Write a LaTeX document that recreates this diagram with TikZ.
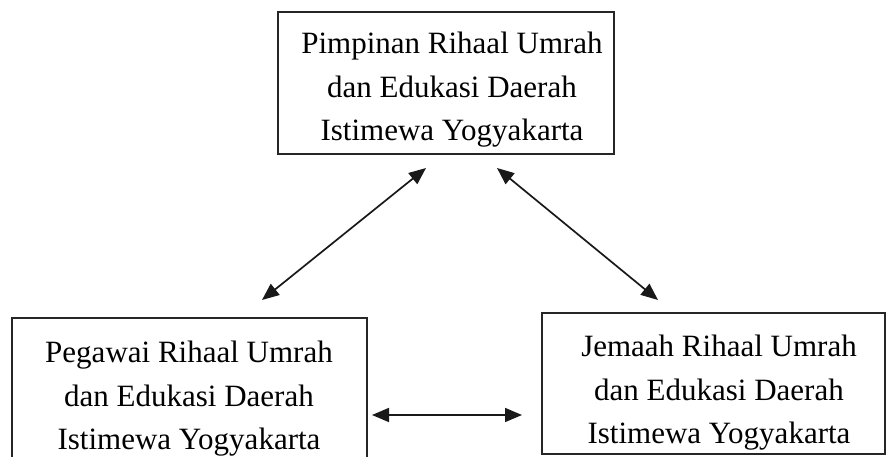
\documentclass[tikz,border=0pt]{standalone}
\usepackage{fontspec}
\setmainfont{Liberation Serif}
\usetikzlibrary{arrows.meta}
\begin{document}
\begin{tikzpicture}[x=1pt,y=-1pt,
  box/.style={draw=black!85, line width=1.3pt, inner sep=0pt},
  txt/.style={align=center, inner sep=0pt, anchor=north, text=black,
    font=\fontsize{31}{43.5}\selectfont},
  link/.style={line width=1.7pt, draw=black!90,
    {Triangle[length=17pt,width=14pt]}-{Triangle[length=17pt,width=14pt]}}]
\useasboundingbox (0,0) rectangle (886,457);
\node[box, minimum width=336pt, minimum height=142pt] (top) at (446,83) {};
\node[box, minimum width=355pt, minimum height=150pt] (left) at (189.5,393) {};
\node[box, minimum width=343pt, minimum height=141pt] (right) at (713.5,383.5) {};
\node[txt] (toptxt) at (452,32) {Pimpinan Rihaal Umrah\\dan Edukasi Daerah\\Istimewa Yogyakarta};
\node[txt] (lefttxt) at (189,341) {Pegawai Rihaal Umrah\\dan Edukasi Daerah\\Istimewa Yogyakarta};
\node[txt] (righttxt) at (719,335) {Jemaah Rihaal Umrah\\dan Edukasi Daerah\\Istimewa Yogyakarta};
\coordinate (t1) at (426,168);
\coordinate (l1) at (262,300);
\coordinate (t2) at (497,168);
\coordinate (r1) at (658,300);
\coordinate (m1) at (372,415);
\coordinate (m2) at (522,415);
\draw[link] (t1) -- (l1);
\draw[link] (t2) -- (r1);
\draw[link] (m1) -- (m2);
\end{tikzpicture}
\end{document}
